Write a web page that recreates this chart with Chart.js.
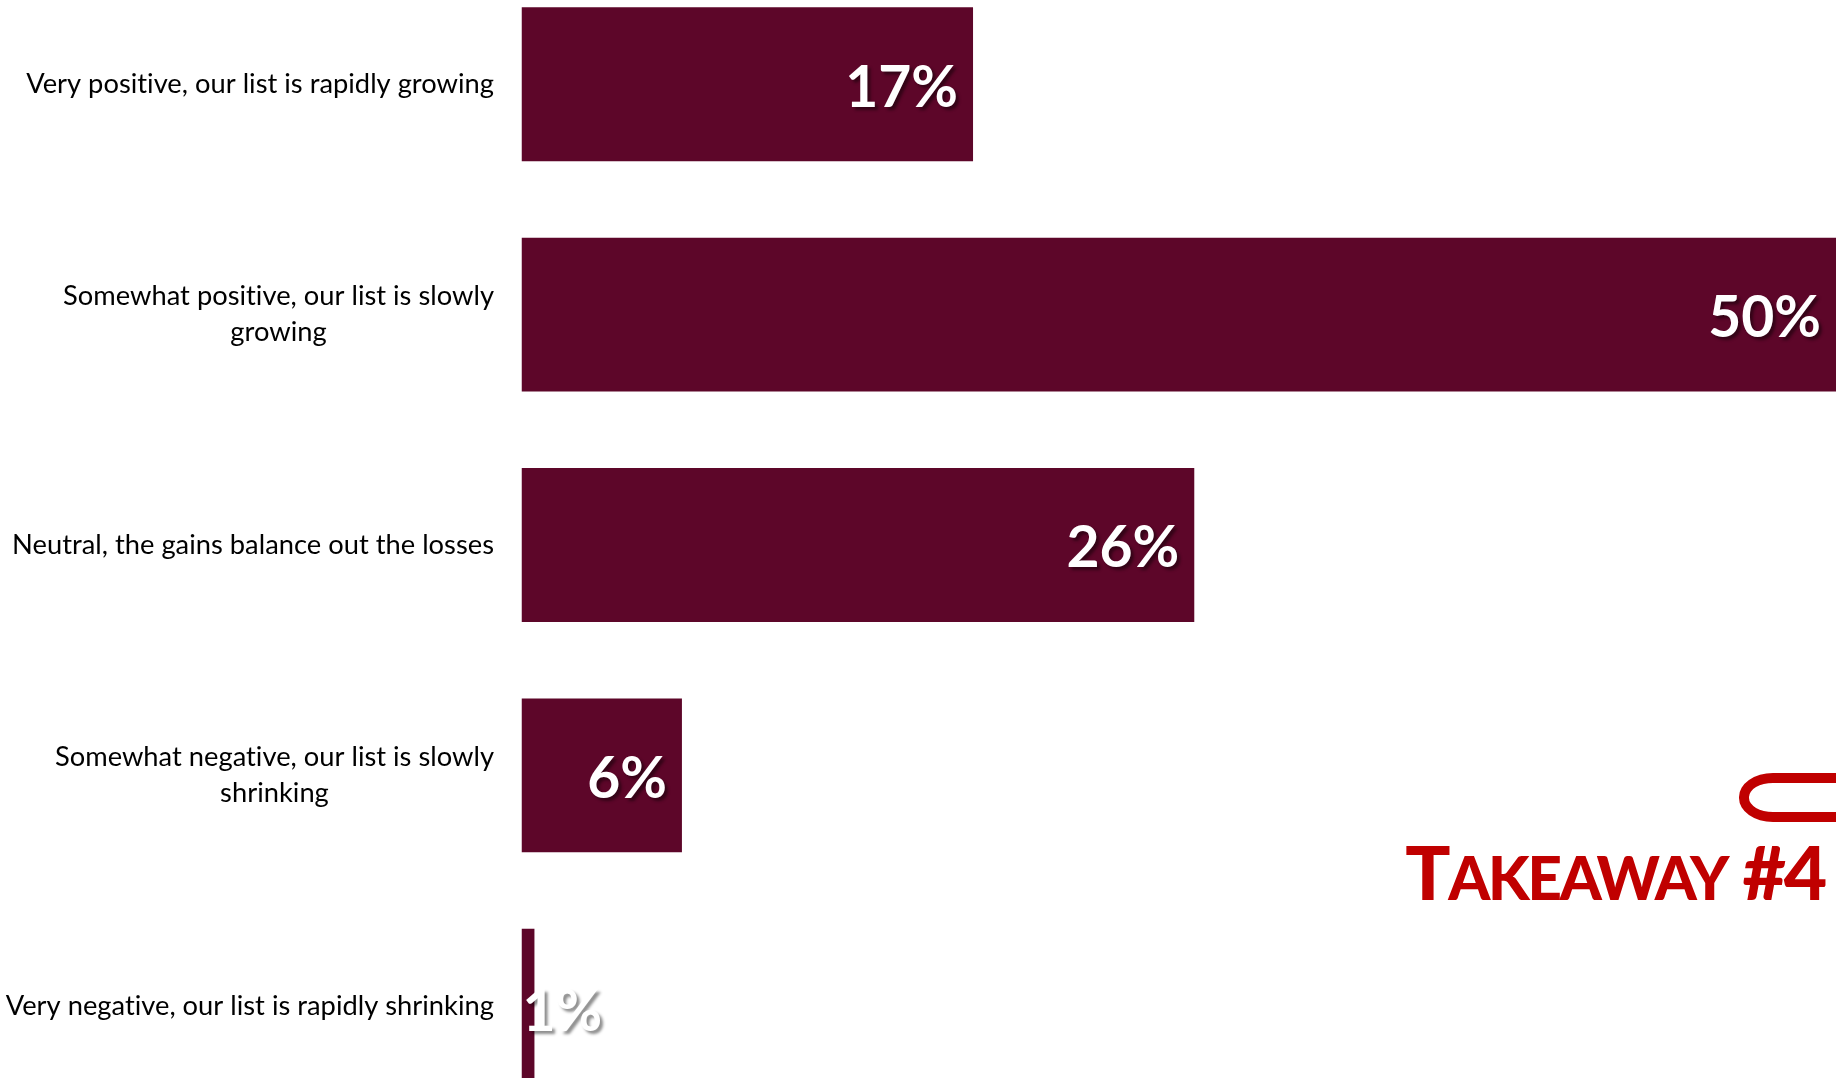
<!DOCTYPE html>
<html lang="en">
<head>
  <meta charset="UTF-8">
  <title>Takeaway #4</title>
  <script src="https://cdn.jsdelivr.net/npm/chart.js"></script>
  <style>
    html, body {
      margin: 0;
      padding: 0;
      background: #fff;
      overflow: hidden;
    }

    #wrap {
      position: relative;
      width: 1836px;
      height: 1078px;
      overflow: hidden;
    }

    #chart {
      position: absolute;
      left: 0;
      top: -31px;
    }

    #bracket {
      position: absolute;
      left: 1739px;
      top: 773px;
      width: 140px;
      height: 29px;
      border: 10px solid #c00000;
      border-radius: 34px / 24px;
    }

    #takeaway {
      position: absolute;
      right: 11px;
      top: 827px;
      color: #c00000;
      font: 900 75px Lato, sans-serif;
      letter-spacing: -2.3px;
      line-height: 88px;
      white-space: nowrap;
    }

    #takeaway span {
      font-size: 60px;
    }
  </style>
</head>
<body>
  <div id="wrap">
    <canvas id="chart" width="1836" height="1152"></canvas>
    <div id="bracket"></div>
    <div id="takeaway">T<span>AKEAWAY</span> #4</div>
  </div>

  <script>
    const categories = [
      ['Very positive, our list is rapidly growing'],
      ['Somewhat positive, our list is slowly', 'growing'],
      ['Neutral, the gains balance out the losses'],
      ['Somewhat negative, our list is slowly', 'shrinking'],
      ['Very negative, our list is rapidly shrinking']
    ];
    // bar lengths, they differ a bit from the rounded labels
    const values = [17.45, 50.8, 26, 6.2, 0.5];
    const valueLabels = ['17%', '50%', '26%', '6%', '1%'];
    const axisMax = 50.8;

    const labelFont = '27.3px Lato, sans-serif';
    const valueFont = 'bold 57px Lato, sans-serif';

    const textPlugin = {
      id: 'barText',
      afterDatasetsDraw(chart) {
        const ctx = chart.ctx;
        const bars = chart.getDatasetMeta(0).data;
        const x = chart.scales.x;

        ctx.save();
        ctx.textBaseline = 'middle';
        ctx.letterSpacing = '0.01px'; // stops the Lato "ti" ligature

        // category labels, each line centred on the block, block right aligned
        ctx.font = labelFont;
        ctx.fillStyle = '#000';
        ctx.textAlign = 'center';
        categories.forEach((lines, i) => {
          const widest = Math.max(...lines.map(l => ctx.measureText(l).width));
          const cx = 494 - widest / 2;
          lines.forEach((line, j) => {
            const cy = bars[i].y + (j - (lines.length - 1) / 2) * 36;
            ctx.fillText(line, cx, cy);
          });
        });

        // value labels inside the bar end, with the soft shadow
        ctx.font = valueFont;
        ctx.fillStyle = '#fff';
        ctx.textAlign = 'right';
        ctx.shadowColor = 'rgba(0, 0, 0, 0.45)';
        ctx.shadowBlur = 3;
        ctx.shadowOffsetX = 3;
        ctx.shadowOffsetY = 3;
        valueLabels.forEach((label, i) => {
          const w = ctx.measureText(label).width;
          const right = Math.max(bars[i].x - 15, x.getPixelForValue(0) + w + 1);
          // the 1% label sits a little lower than the others
          ctx.fillText(label, right, bars[i].y + (i === 4 ? 7 : 4));
        });
        ctx.restore();
      }
    };

    new Chart(document.getElementById('chart'), {
      type: 'bar',
      data: {
        labels: categories,
        datasets: [{
          data: values,
          backgroundColor: '#5d0629',
          barPercentage: 0.668,
          categoryPercentage: 1
        }]
      },
      options: {
        indexAxis: 'y',
        responsive: false,
        animation: false,
        layout: { padding: { left: 521.5 } },
        plugins: {
          legend: { display: false },
          tooltip: { enabled: false }
        },
        scales: {
          x: { display: false, min: 0, max: axisMax },
          y: { display: false }
        }
      },
      plugins: [textPlugin]
    });
  </script>
</body>
</html>
